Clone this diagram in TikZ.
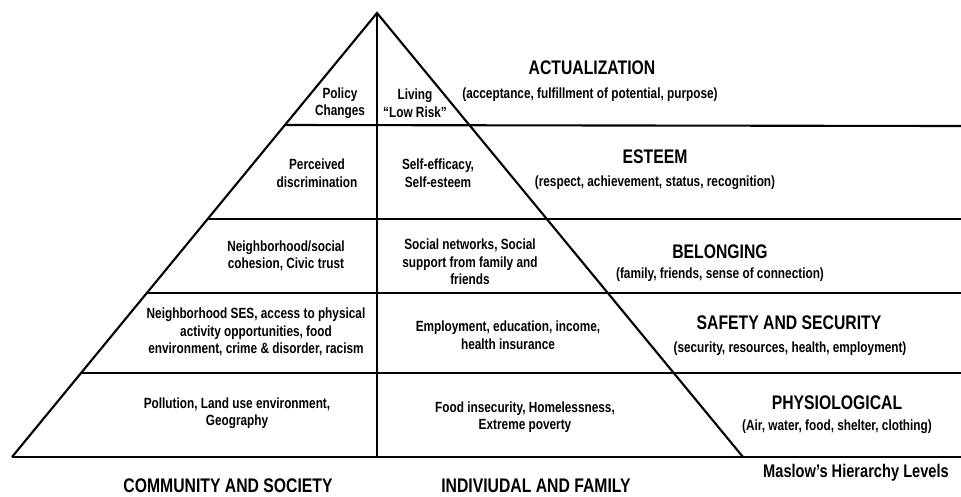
\documentclass[tikz,border=0pt]{standalone}
\usepackage{fontspec}
\setmainfont{Liberation Sans}[FakeStretch=0.8]
\begin{document}
\begin{tikzpicture}[x=0.025cm,y=-0.025cm,line width=1.5pt,
  every node/.style={align=center,inner sep=0pt,font=\bfseries\fontsize{10.5}{12.4}\selectfont},
  level/.style={font=\bfseries\fontsize{14}{16}\selectfont},
  sub/.style={font=\bfseries\fontsize{10.5}{12.4}\selectfont}]
  \useasboundingbox (0,0) rectangle (961,496);
  \coordinate (top) at (377,13);
  \coordinate (bl) at (12,457);
  \coordinate (bm) at (377,457);
  \coordinate (br) at (743,457);
  \coordinate (be) at (961,457);
  \coordinate (l1) at (285,125);
  \coordinate (r1) at (961,126);
  \coordinate (l2) at (208,219);
  \coordinate (r2) at (961,219);
  \coordinate (l3) at (147,293);
  \coordinate (r3) at (961,293);
  \coordinate (l4) at (81,373);
  \coordinate (r4) at (961,373);
  \draw (bl) -- (top) -- (br);
  \draw (top) -- (bm);
  \draw (bl) -- (be);
  \draw (l1) -- (r1);
  \draw (l2) -- (r2);
  \draw (l3) -- (r3);
  \draw (l4) -- (r4);

  \node (policy) at (340,103) {Policy\\Changes};
  \node (living) at (415,103) {Living\\``Low Risk''};
  \node[level] (act) at (592,68) {ACTUALIZATION};
  \node[sub] (actsub) at (590,95) {(acceptance, fulfillment of potential, purpose)};

  \node (discr) at (317,173) {Perceived\\discrimination};
  \node (selfeff) at (438,173) {Self-efficacy,\\Self-esteem};
  \node[level] (est) at (655,157) {ESTEEM};
  \node[sub] (estsub) at (655,183) {(respect, achievement, status, recognition)};

  \node (cohesion) at (286,256) {Neighborhood/social\\cohesion, Civic trust};
  \node (social) at (470,262) {Social networks, Social\\support from family and\\friends};
  \node[level] (bel) at (720,252) {BELONGING};
  \node[sub] (belsub) at (720,275) {(family, friends, sense of connection)};

  \node (ses) at (256,332) {Neighborhood SES, access to physical\\activity opportunities, food\\environment, crime \& disorder, racism};
  \node (employ) at (508,335) {Employment, education, income,\\health insurance};
  \node[level] (safe) at (789,323) {SAFETY AND SECURITY};
  \node[sub] (safesub) at (790,349) {(security, resources, health, employment)};

  \node (pollution) at (237,413) {Pollution, Land use environment,\\Geography};
  \node (food) at (525,417) {Food insecurity, Homelessness,\\Extreme poverty};
  \node[level] (phys) at (837,403) {PHYSIOLOGICAL};
  \node[sub] (physsub) at (837,427) {(Air, water, food, shelter, clothing)};

  \node[font=\bfseries\fontsize{13}{15}\selectfont] (maslow) at (856,473) {Maslow’s Hierarchy Levels};
  \node[level] (comm) at (228,486) {COMMUNITY AND SOCIETY};
  \node[level] (indiv) at (536,486) {INDIVIUDAL AND FAMILY};
\end{tikzpicture}
\end{document}
